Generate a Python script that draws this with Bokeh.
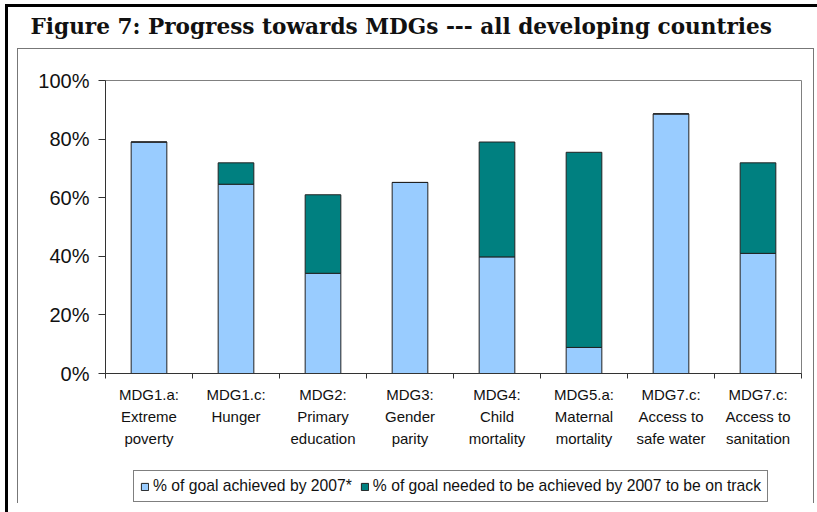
from bokeh.plotting import figure
from bokeh.models import (ColumnDataSource, FixedTicker, Legend, LegendItem, Range1d)
from bokeh.layouts import column
from bokeh.embed import file_html
from bokeh.resources import INLINE

categories = ["MDG1.a:\nExtreme\npoverty", "MDG1.c:\nHunger", "MDG2:\nPrimary\neducation",
              "MDG3:\nGender\nparity", "MDG4:\nChild\nmortality", "MDG5.a:\nMaternal\nmortality",
              "MDG7.c:\nAccess to\nsafe water", "MDG7.c:\nAccess to\nsanitation"]
achieved = [79.0, 64.6, 34.2, 65.2, 39.8, 8.9, 88.6, 41.0]
gap_to_track = [0.0, 7.3, 26.8, 0.0, 39.2, 66.6, 0.0, 30.9]
series_names = ["% of goal achieved by 2007*",
                "% of goal needed to be achieved by 2007 to be on track"]
colors = ["#99CCFF", "#008080"]
y_ticks = [0, 20, 40, 60, 80, 100]
title_text = "Figure 7: Progress towards MDGs --- all developing countries"

xpos = [i + 0.5 for i in range(len(categories))]
src = ColumnDataSource(dict(x=xpos, achieved=achieved, gap=gap_to_track))

W, H = 817, 512
TITLE_H = 60
LEG_H = 50
CHART_H = H - TITLE_H - LEG_H

# ---- title strip ----
tf = figure(width=W, height=TITLE_H, output_backend="svg", toolbar_location=None,
            x_range=Range1d(0, 1), y_range=Range1d(0, 1),
            x_axis_type=None, y_axis_type=None, title=title_text,
            min_border_left=0, min_border_right=0, min_border_top=0, min_border_bottom=0)
tf.xgrid.visible = False
tf.ygrid.visible = False
tf.outline_line_color = None
tf.background_fill_color = None
tf.border_fill_color = None
tf.title.text_font = "DejaVu Serif"
tf.title.text_font_style = "bold"
tf.title.text_font_size = "21.6px"
tf.title.text_color = "#111111"
tf.title.align = "left"
tf.title.vertical_align = "top"
tf.title.offset = -75
tf.title.standoff = 26

# ---- chart ----
p = figure(width=W, height=CHART_H, output_backend="svg", toolbar_location=None,
           x_range=Range1d(0, len(categories)), y_range=Range1d(0, 100),
           min_border_left=105, min_border_right=16, min_border_top=80 - TITLE_H,
           min_border_bottom=CHART_H - (80 - TITLE_H) - 293)
p.xgrid.visible = False
p.ygrid.visible = False
p.outline_line_color = "#808080"
p.outline_line_width = 1
p.background_fill_color = "white"
p.border_fill_color = None

rs = p.vbar_stack(["achieved", "gap"], x="x", width=0.41, source=src,
                  fill_color=colors, line_color="#222222", line_width=1)

xa = p.xaxis[0]
xa.ticker = FixedTicker(ticks=xpos, minor_ticks=list(range(len(categories) + 1)))
xa.major_label_overrides = {x: c for x, c in zip(xpos, categories)}
xa.major_tick_line_color = None
xa.major_tick_out = 0
xa.major_tick_in = 0
xa.minor_tick_out = 5
xa.minor_tick_in = 0
xa.minor_tick_line_color = "#333333"
xa.axis_line_color = "#333333"
xa.major_label_text_font = "Liberation Sans"
xa.major_label_text_font_size = "15px"
xa.major_label_text_color = "#111111"
xa.major_label_text_line_height = 1.32
xa.major_label_standoff = 7

ya = p.yaxis[0]
ya.ticker = FixedTicker(ticks=y_ticks, minor_ticks=[])
ya.major_label_overrides = {t: f"{t}%" for t in y_ticks}
ya.major_tick_out = 7
ya.major_tick_in = 0
ya.major_tick_line_color = "#333333"
ya.axis_line_color = "#333333"
ya.major_label_text_font = "Liberation Sans"
ya.major_label_text_font_size = "20px"
ya.major_label_text_color = "#111111"
ya.major_label_standoff = 9

# ---- legend strip (proxy bars from the same data, kept out of view) ----
lf = figure(width=W, height=LEG_H, output_backend="svg", toolbar_location=None,
            x_range=Range1d(0, len(categories)), y_range=Range1d(1000, 1001),
            x_axis_type=None, y_axis_type=None,
            min_border_left=0, min_border_right=0, min_border_top=0, min_border_bottom=0)
lf.xgrid.visible = False
lf.ygrid.visible = False
lf.outline_line_color = None
lf.background_fill_color = None
lf.border_fill_color = None
lr = lf.vbar_stack(["achieved", "gap"], x="x", width=0.41, source=src,
                   fill_color=colors, line_color="#222222", line_width=1)
legend = Legend(items=[LegendItem(label=n, renderers=[r]) for n, r in zip(series_names, lr)],
                orientation="horizontal", location=(28, 10),
                border_line_color="black", border_line_width=1,
                background_fill_color="white", background_fill_alpha=1,
                label_text_font="Liberation Sans", label_text_font_size="15.7px",
                label_text_color="#111111",
                glyph_width=9, glyph_height=9, label_standoff=4, spacing=8,
                padding=6, margin=0, label_height=16)
lf.add_layout(legend, "center")

layout = column(tf, p, lf, spacing=0)
# document frame lines around the figure
layout.styles = {
    "background-image": ", ".join(["linear-gradient(#000,#000)"] * 2 +
                                  ["linear-gradient(#777,#777)"] * 3),
    "background-size": "812px 3px, 3px 508px, 1px 455px, 797px 1px, 1px 455px",
    "background-position": "5px 4px, 5px 4px, 17px 48px, 17px 48px, 813px 48px",
    "background-repeat": "no-repeat",
    "background-color": "white",
}

open("out.html", "w").write(file_html(layout, INLINE))
